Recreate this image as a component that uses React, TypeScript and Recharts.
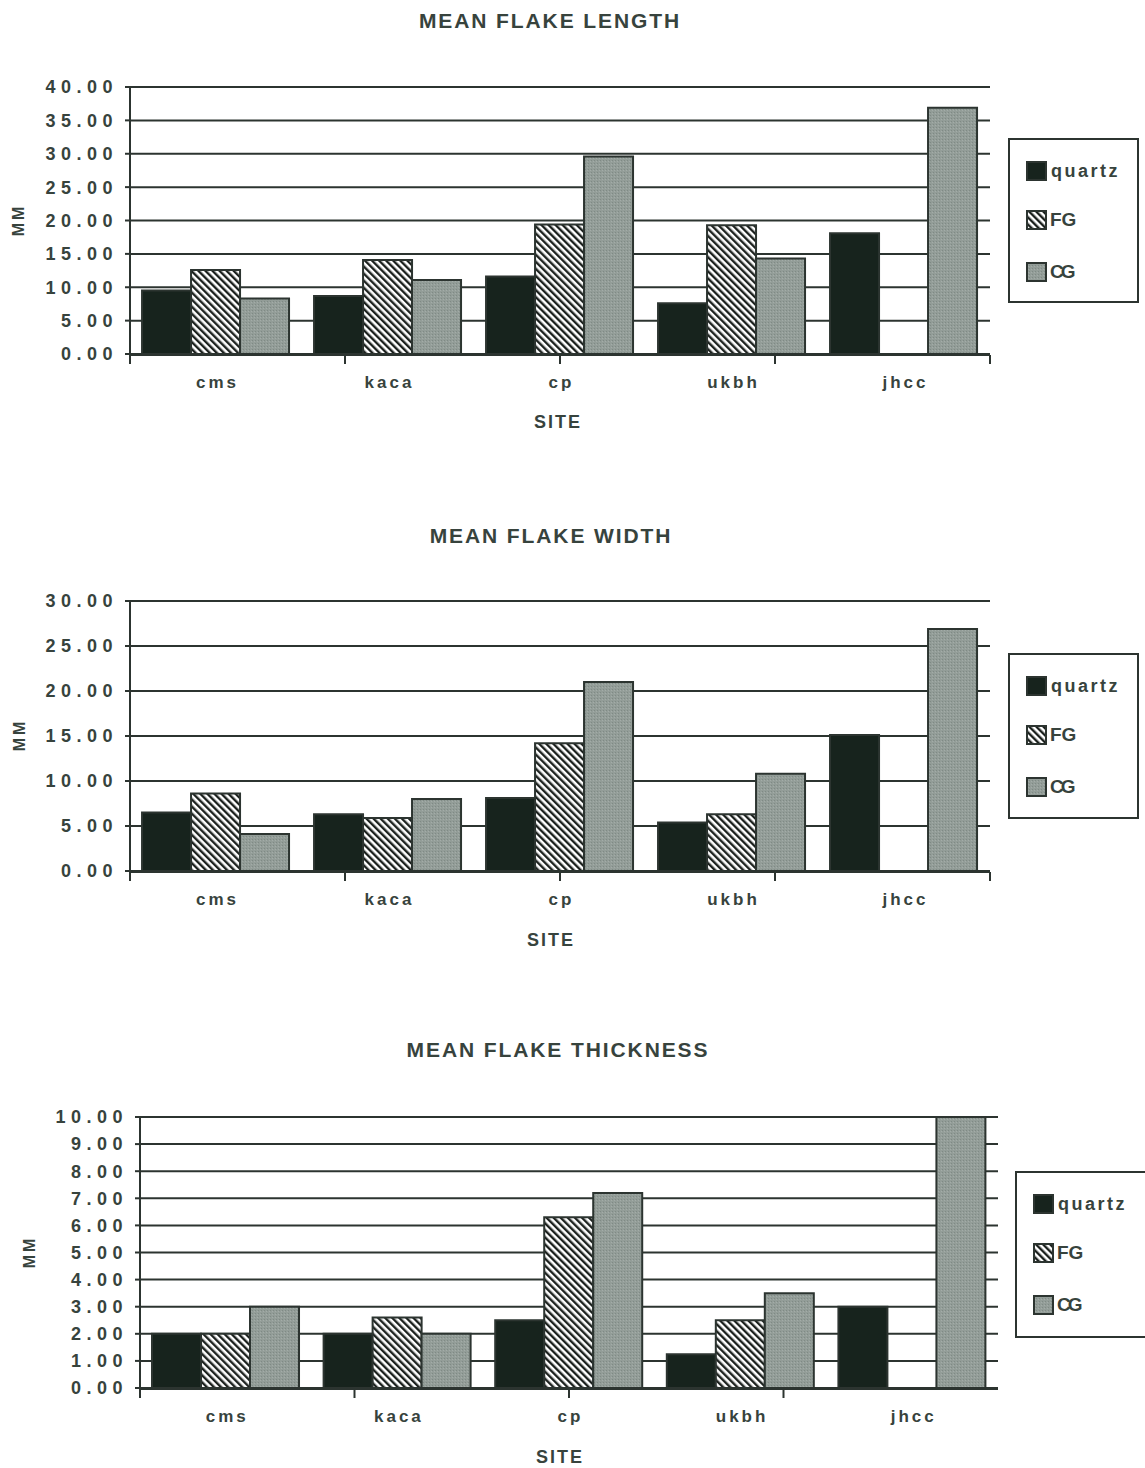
import { Bar, BarChart, CartesianGrid, XAxis, YAxis } from "recharts";

const SITES = ["cms", "kaca", "cp", "ukbh", "jhcc"];
const SERIES = ["quartz", "FG", "CG"];

const LENGTH_QUARTZ = [9.5, 8.7, 11.6, 7.6, 18.1];
const LENGTH_FG = [12.6, 14.1, 19.4, 19.3, null];
const LENGTH_CG = [8.3, 11.1, 29.6, 14.3, 36.9];
const LENGTH_TICKS = [0, 5, 10, 15, 20, 25, 30, 35, 40];

const WIDTH_QUARTZ = [6.5, 6.3, 8.1, 5.4, 15.1];
const WIDTH_FG = [8.6, 5.9, 14.2, 6.3, null];
const WIDTH_CG = [4.1, 8.0, 21.0, 10.8, 26.9];
const WIDTH_TICKS = [0, 5, 10, 15, 20, 25, 30];

const THICK_QUARTZ = [2.0, 2.0, 2.5, 1.25, 3.0];
const THICK_FG = [2.0, 2.6, 6.3, 2.5, null];
const THICK_CG = [3.0, 2.0, 7.2, 3.5, 10.0];
const THICK_TICKS = [0, 1, 2, 3, 4, 5, 6, 7, 8, 9, 10];

const EDGE_TICKS = [0, 1, 2, 3, 4, 5];

const INK = "#2c3430";
const TEXT = "#37433d";
const FONT = "'Liberation Sans', Arial, sans-serif";
const FILLS: Record<string, string> = {
  quartz: "#17231d",
  FG: "url(#flake-hatch)",
  CG: "url(#flake-stipple)",
};

function buildRows(q: (number | null)[], fg: (number | null)[], cg: (number | null)[]) {
  return SITES.map((site, i) => ({ site, quartz: q[i], FG: fg[i], CG: cg[i] }));
}

interface Geo {
  plotLeft: number;
  plotRight: number;
  plotTop: number;
  plotBottom: number;
  titleX: number;
  titleY: number;
  siteX: number;
  siteY: number;
  mmX: number;
  mmY: number;
  legend: { x: number; y: number; w: number; h: number };
}

const LEGEND_ROWS = [31, 80, 132];

function PatternDefs() {
  return (
    <svg width={0} height={0} style={{ position: "absolute" }}>
      <defs>
        <pattern
          id="flake-hatch"
          patternUnits="userSpaceOnUse"
          width={5}
          height={5}
          patternTransform="rotate(-45)"
        >
          <rect width={5} height={5} fill="#ffffff" />
          <line x1={1.2} y1={0} x2={1.2} y2={5} stroke="#1c211e" strokeWidth={2.4} />
        </pattern>
        <pattern id="flake-stipple" patternUnits="userSpaceOnUse" width={3} height={3}>
          <rect width={3} height={3} fill="#939d98" />
          <rect x={0} y={0} width={1} height={1} fill="#7f8a85" />
          <rect x={2} y={1} width={1} height={1} fill="#a3aca8" />
        </pattern>
      </defs>
    </svg>
  );
}

function FlakeLegend({ box }: { box: Geo["legend"] }) {
  return (
    <div
      style={{
        position: "absolute",
        left: box.x,
        top: box.y,
        width: box.w,
        height: box.h,
        border: `2px solid ${INK}`,
        boxSizing: "border-box",
        background: "#fff",
      }}
    >
      {SERIES.map((s, i) => (
        <div
          key={s}
          style={{
            position: "absolute",
            left: 16,
            top: LEGEND_ROWS[i] - 10,
            height: 20,
            display: "flex",
            alignItems: "center",
          }}
        >
          <svg width={21} height={20}>
            <rect x={1} y={1} width={19} height={18} fill={FILLS[s]} stroke={INK} strokeWidth={2} />
          </svg>
          <span
            style={{
              marginLeft: s === "quartz" ? 4 : 3,
              fontFamily: FONT,
              fontSize: s === "quartz" ? 18 : 19,
              fontWeight: 700,
              letterSpacing: s === "quartz" ? 2.5 : s === "CG" ? -3 : 0,
              color: TEXT,
              lineHeight: "20px",
            }}
          >
            {s}
          </span>
        </div>
      ))}
    </div>
  );
}

interface FlakeChartProps {
  title: string;
  rows: ReturnType<typeof buildRows>;
  ticks: number[];
  geo: Geo;
}

function FlakeChart({ title, rows, ticks, geo }: FlakeChartProps) {
  const svgTop = geo.plotTop - 20;
  const height = geo.plotBottom - geo.plotTop + 100;
  const textStyle = { fontFamily: FONT, fontWeight: 700, color: TEXT, position: "absolute" as const, whiteSpace: "nowrap" as const };

  return (
    <>
      <div
        style={{
          ...textStyle,
          left: geo.titleX,
          top: geo.titleY,
          transform: "translate(-50%, -50%)",
          fontSize: 21,
          letterSpacing: 1.9,
        }}
      >
        {title}
      </div>
      <div style={{ position: "absolute", left: 0, top: svgTop }}>
        <BarChart
          width={1000}
          height={height}
          data={rows}
          margin={{ top: 20, right: 1000 - geo.plotRight, bottom: 78, left: geo.plotLeft - 100 }}
          barCategoryGap="7%"
          barGap={0}
        >
          <CartesianGrid horizontal vertical={false} stroke={INK} strokeWidth={2} />
          <XAxis
            xAxisId="edges"
            type="number"
            domain={[0, 5]}
            ticks={EDGE_TICKS}
            allowDataOverflow
            height={1}
            tickSize={9}
            tickFormatter={() => ""}
            axisLine={{ stroke: INK, strokeWidth: 2 }}
            tickLine={{ stroke: INK, strokeWidth: 2 }}
          />
          <XAxis
            dataKey="site"
            height={1}
            axisLine={false}
            tickLine={false}
            tickSize={0}
            tickMargin={22}
            tick={{ fill: TEXT, fontSize: 17, fontWeight: 700, fontFamily: FONT, letterSpacing: 3, dx: 1.5 }}
          />
          <YAxis
            type="number"
            domain={[0, ticks[ticks.length - 1]]}
            ticks={ticks}
            interval={0}
            width={100}
            tickSize={5}
            tickMargin={7}
            tickFormatter={(v: number) => v.toFixed(2)}
            axisLine={{ stroke: INK, strokeWidth: 2 }}
            tickLine={{ stroke: INK, strokeWidth: 2 }}
            tick={{ fill: TEXT, fontSize: 18, fontWeight: 700, fontFamily: FONT, letterSpacing: 5.5 }}
          />
          {SERIES.map((s) => (
            <Bar
              key={s}
              dataKey={s}
              name={s}
              fill={FILLS[s]}
              stroke={INK}
              strokeWidth={2}
              isAnimationActive={false}
            />
          ))}
        </BarChart>
      </div>
      <div
        style={{
          ...textStyle,
          left: geo.siteX,
          top: geo.siteY,
          transform: "translate(-50%, -50%)",
          fontSize: 18,
          letterSpacing: 2,
        }}
      >
        SITE
      </div>
      <div
        style={{
          ...textStyle,
          left: geo.mmX,
          top: geo.mmY,
          transform: "translate(-50%, -50%) rotate(-90deg)",
          fontSize: 16,
          letterSpacing: 3,
        }}
      >
        MM
      </div>
      <FlakeLegend box={geo.legend} />
    </>
  );
}

const GEO_LENGTH: Geo = {
  plotLeft: 130,
  plotRight: 990,
  plotTop: 87,
  plotBottom: 354,
  titleX: 550,
  titleY: 21,
  siteX: 558,
  siteY: 422,
  mmX: 19,
  mmY: 220,
  legend: { x: 1008, y: 138, w: 131, h: 165 },
};

const GEO_WIDTH: Geo = {
  plotLeft: 130,
  plotRight: 990,
  plotTop: 601,
  plotBottom: 871,
  titleX: 551,
  titleY: 536,
  siteX: 551,
  siteY: 940,
  mmX: 20,
  mmY: 735,
  legend: { x: 1008, y: 653, w: 131, h: 166 },
};

const GEO_THICK: Geo = {
  plotLeft: 140,
  plotRight: 998,
  plotTop: 1117,
  plotBottom: 1388,
  titleX: 558,
  titleY: 1050,
  siteX: 560,
  siteY: 1457,
  mmX: 30,
  mmY: 1252,
  legend: { x: 1015, y: 1171, w: 140, h: 167 },
};

export default function App() {
  return (
    <div
      style={{
        position: "absolute",
        left: 0,
        top: 0,
        width: 1145,
        height: 1468,
        background: "#ffffff",
        overflow: "hidden",
      }}
    >
      <PatternDefs />
      <FlakeChart
        title="MEAN FLAKE LENGTH"
        rows={buildRows(LENGTH_QUARTZ, LENGTH_FG, LENGTH_CG)}
        ticks={LENGTH_TICKS}
        geo={GEO_LENGTH}
      />
      <FlakeChart
        title="MEAN FLAKE WIDTH"
        rows={buildRows(WIDTH_QUARTZ, WIDTH_FG, WIDTH_CG)}
        ticks={WIDTH_TICKS}
        geo={GEO_WIDTH}
      />
      <FlakeChart
        title="MEAN FLAKE THICKNESS"
        rows={buildRows(THICK_QUARTZ, THICK_FG, THICK_CG)}
        ticks={THICK_TICKS}
        geo={GEO_THICK}
      />
    </div>
  );
}
